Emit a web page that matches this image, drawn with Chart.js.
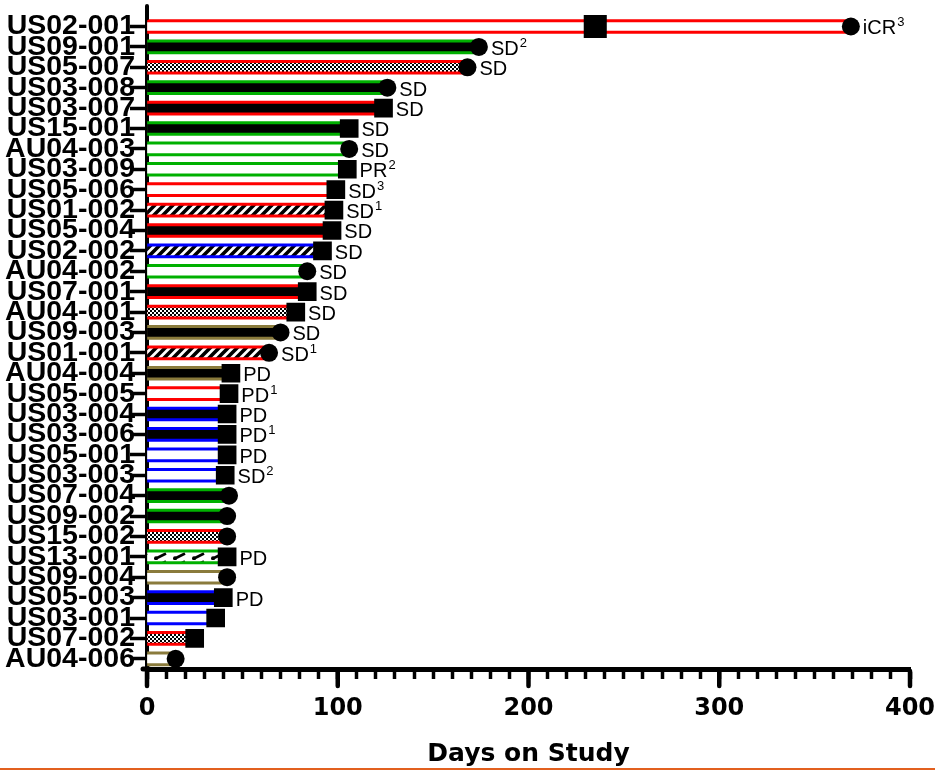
<!DOCTYPE html>
<html><head><meta charset="utf-8">
<script src="https://cdn.jsdelivr.net/npm/chart.js@4.4.0/dist/chart.umd.min.js"></script>
<style>
html,body{margin:0;padding:0;background:#fff;}
#wrap{position:relative;width:935px;height:771px;overflow:hidden;}
canvas{display:block;}
#rule{position:absolute;left:0;top:768px;width:935px;height:2px;background:#E2601F;}
</style>
</head><body>
<div id="wrap"><canvas id="c" width="935" height="771"></canvas><div id="rule"></div></div>
<script>
// ---- data ----
const patients = ['US02-001','US09-001','US05-007','US03-008','US03-007','US15-001','AU04-003','US03-009','US05-006','US01-002','US05-004','US02-002','AU04-002','US07-001','AU04-001','US09-003','US01-001','AU04-004','US05-005','US03-004','US03-006','US05-001','US03-003','US07-004','US09-002','US15-002','US13-001','US09-004','US05-003','US03-001','US07-002','AU04-006'];
const daysOnStudy = [369,174,168,126,124,106,106,105,99,98,97,92,84,84,78,70,64,44,43,42,42,42,41,43,42,42,42,42,40,36,25,15];
const endMarker = ['circle','circle','circle','circle','square','square','circle','square','square','square','square','square','circle','square','square','circle','circle','square','square','square','square','square','square','circle','circle','circle','square','circle','square','square','square','circle'];
const response = ['iCR','SD','SD','SD','SD','SD','SD','PR','SD','SD','SD','SD','SD','SD','SD','SD','SD','PD','PD','PD','PD','PD','SD','','','','PD','','PD','','',''];
const footnote = ['3','2','','','','','','2','3','1','','','','','','','1','','1','','1','','2','','','','','','','','',''];
const stripeGroup = ['red','green','red','green','red','green','green','green','red','red','red','blue','green','red','red','olive','red','olive','red','blue','blue','blue','blue','green','green','red','green','olive','blue','blue','red','olive'];
const innerFill = ['white','black','checker','black','black','black','white','white','white','hatch','black','hatch','white','black','checker','black','hatch','black','white','black','black','white','white','black','black','checker','wave','white','black','white','checker','white'];
const extraEventPatient = ['US02-001'];
const extraEventDay = [235];
const xMajorTicks = [0,100,200,300,400];
const xTitle = 'Days on Study';

// ---- styles ----
const groupColor = {red:'#FF0000', green:'#00B000', blue:'#0000FF', olive:'#8A7B3C'};
function makePattern(kind){
  const c = document.createElement('canvas');
  const g = c.getContext('2d');
  if (kind === 'checker') {
    c.width = 4; c.height = 4;
    g.fillStyle = '#fff'; g.fillRect(0,0,4,4);
    g.fillStyle = '#000'; g.fillRect(0,0,2,2); g.fillRect(2,2,2,2);
  } else if (kind === 'hatch') {
    c.width = 9; c.height = 9;
    g.fillStyle = '#fff'; g.fillRect(0,0,9,9);
    g.strokeStyle = '#000'; g.lineWidth = 3.6;
    g.beginPath();
    g.moveTo(-2,11); g.lineTo(11,-2);
    g.moveTo(-2,2); g.lineTo(2,-2);
    g.moveTo(7,11); g.lineTo(11,7);
    g.stroke();
  } else if (kind === 'wave') {
    c.width = 19; c.height = 8;
    g.fillStyle = '#fff'; g.fillRect(0,0,19,8);
    g.strokeStyle = '#000'; g.lineWidth = 2.6;
    g.beginPath(); g.moveTo(4,6.5); g.lineTo(14,1.5); g.stroke();
    g.fillStyle = '#000'; g.beginPath(); g.arc(4,6.2,2,0,Math.PI*2); g.fill();
  }
  return g.createPattern(c, 'repeat');
}
const fillStyles = {white:'#FFFFFF', black:'#000000', checker:makePattern('checker'), hatch:makePattern('hatch'), wave:makePattern('wave')};

const CIRCLE_R = 9;
const SQUARE_R = 13.2;
const BIG_SQUARE_R = 16.3;
const AXIS_FONT = '"DejaVu Sans", "Liberation Sans", sans-serif';

const responseLabels = {
  id: 'responseLabels',
  afterDatasetsDraw(chart) {
    const meta = chart.getDatasetMeta(2);
    const ctx = chart.ctx;
    ctx.save();
    ctx.fillStyle = '#000';
    ctx.textAlign = 'left';
    ctx.textBaseline = 'alphabetic';
    meta.data.forEach((pt, i) => {
      const txt = response[i];
      if (!txt) return;
      const half = endMarker[i] === 'circle' ? CIRCLE_R : SQUARE_R * Math.SQRT1_2;
      const x = pt.x + half + 3;
      const y = pt.y + 8;
      ctx.font = '20px "Liberation Sans", Arial, sans-serif';
      ctx.fillText(txt, x, y);
      if (footnote[i]) {
        const w = ctx.measureText(txt).width;
        ctx.font = '13px "Liberation Sans", Arial, sans-serif';
        ctx.fillText(footnote[i], x + w + 1, y - 8);
      }
    });
    ctx.restore();
  }
};

const axisExtras = {
  id: 'axisExtras',
  afterDraw(chart) {
    const ctx = chart.ctx;
    const xs = chart.scales.x;
    const ca = chart.chartArea;
    ctx.save();
    ctx.strokeStyle = '#000';
    ctx.lineCap = 'round';
    ctx.lineWidth = 4;
    ctx.beginPath(); ctx.moveTo(ca.left, 6); ctx.lineTo(ca.left, ca.top + 2); ctx.stroke();
    ctx.lineWidth = 5;
    ctx.beginPath(); ctx.moveTo(ca.left - 4, ca.bottom); ctx.lineTo(ca.left + 2, ca.bottom); ctx.stroke();
    ctx.lineWidth = 4.5;
    xMajorTicks.forEach(v => {
      const px = xs.getPixelForValue(v);
      ctx.beginPath(); ctx.moveTo(px, ca.bottom + 2); ctx.lineTo(px, ca.bottom + 17); ctx.stroke();
    });
    ctx.restore();
  }
};

Chart.defaults.font.family = '"Liberation Sans", Arial, sans-serif';
Chart.defaults.color = '#000';

new Chart(document.getElementById('c'), {
  type: 'bar',
  data: {
    labels: patients,
    datasets: [
      {
        label: 'stripe',
        data: daysOnStudy,
        backgroundColor: stripeGroup.map(g => groupColor[g]),
        barThickness: 14,
        grouped: false,
        order: 4,
        borderWidth: 0
      },
      {
        label: 'fill',
        data: daysOnStudy,
        backgroundColor: innerFill.map(f => fillStyles[f]),
        barThickness: 8,
        grouped: false,
        order: 3,
        borderWidth: 0
      },
      {
        type: 'scatter',
        label: 'end',
        data: patients.map((p, i) => ({x: daysOnStudy[i], y: p})),
        pointStyle: endMarker.map(m => m === 'circle' ? 'circle' : 'rect'),
        pointRadius: endMarker.map(m => m === 'circle' ? CIRCLE_R : SQUARE_R),
        backgroundColor: '#000',
        borderColor: '#000',
        borderWidth: 0,
        order: 2
      },
      {
        type: 'scatter',
        label: 'event',
        data: extraEventPatient.map((p, i) => ({x: extraEventDay[i], y: p})),
        pointStyle: 'rect',
        pointRadius: BIG_SQUARE_R,
        backgroundColor: '#000',
        borderColor: '#000',
        borderWidth: 0,
        order: 1
      }
    ]
  },
  options: {
    indexAxis: 'y',
    responsive: false,
    animation: false,
    events: [],
    layout: {padding: {top: 15.5, right: 25, left: 0, bottom: 0}},
    plugins: {legend: {display: false}, tooltip: {enabled: false}},
    scales: {
      x: {
        type: 'linear',
        position: 'bottom',
        min: 0,
        max: 400,
        afterFit(scale) { scale.height = 102; scale.paddingRight = 0; scale.paddingLeft = 0; },
        border: {display: true, color: '#000', width: 5},
        grid: {display: true, drawOnChartArea: false, drawTicks: true, tickLength: 10, tickWidth: 3.5, tickColor: '#000'},
        ticks: {
          stepSize: 10,
          maxTicksLimit: 100,
          autoSkip: false,
          maxRotation: 0,
          padding: 15,
          color: '#000',
          font: {family: AXIS_FONT, weight: 'bold', size: 24},
          callback: v => (xMajorTicks.includes(v) ? String(v) : '')
        },
        title: {
          display: true,
          text: xTitle,
          color: '#000',
          padding: {top: 0, bottom: 2},
          font: {family: AXIS_FONT, weight: 'bold', size: 25}
        }
      },
      y: {
        type: 'category',
        offset: true,
        z: 1,
        afterFit(scale) { scale.width = 147; },
        border: {display: true, color: '#000', width: 4},
        grid: {display: true, offset: false, drawOnChartArea: false, drawTicks: true, tickLength: 17, tickWidth: 3.5, tickColor: '#000'},
        ticks: {
          autoSkip: false,
          padding: -5,
          color: '#000',
          font: {family: '"Liberation Sans", Arial, sans-serif', weight: 'bold', size: 28.5}
        }
      }
    }
  },
  plugins: [responseLabels, axisExtras]
});
</script>
</body></html>
